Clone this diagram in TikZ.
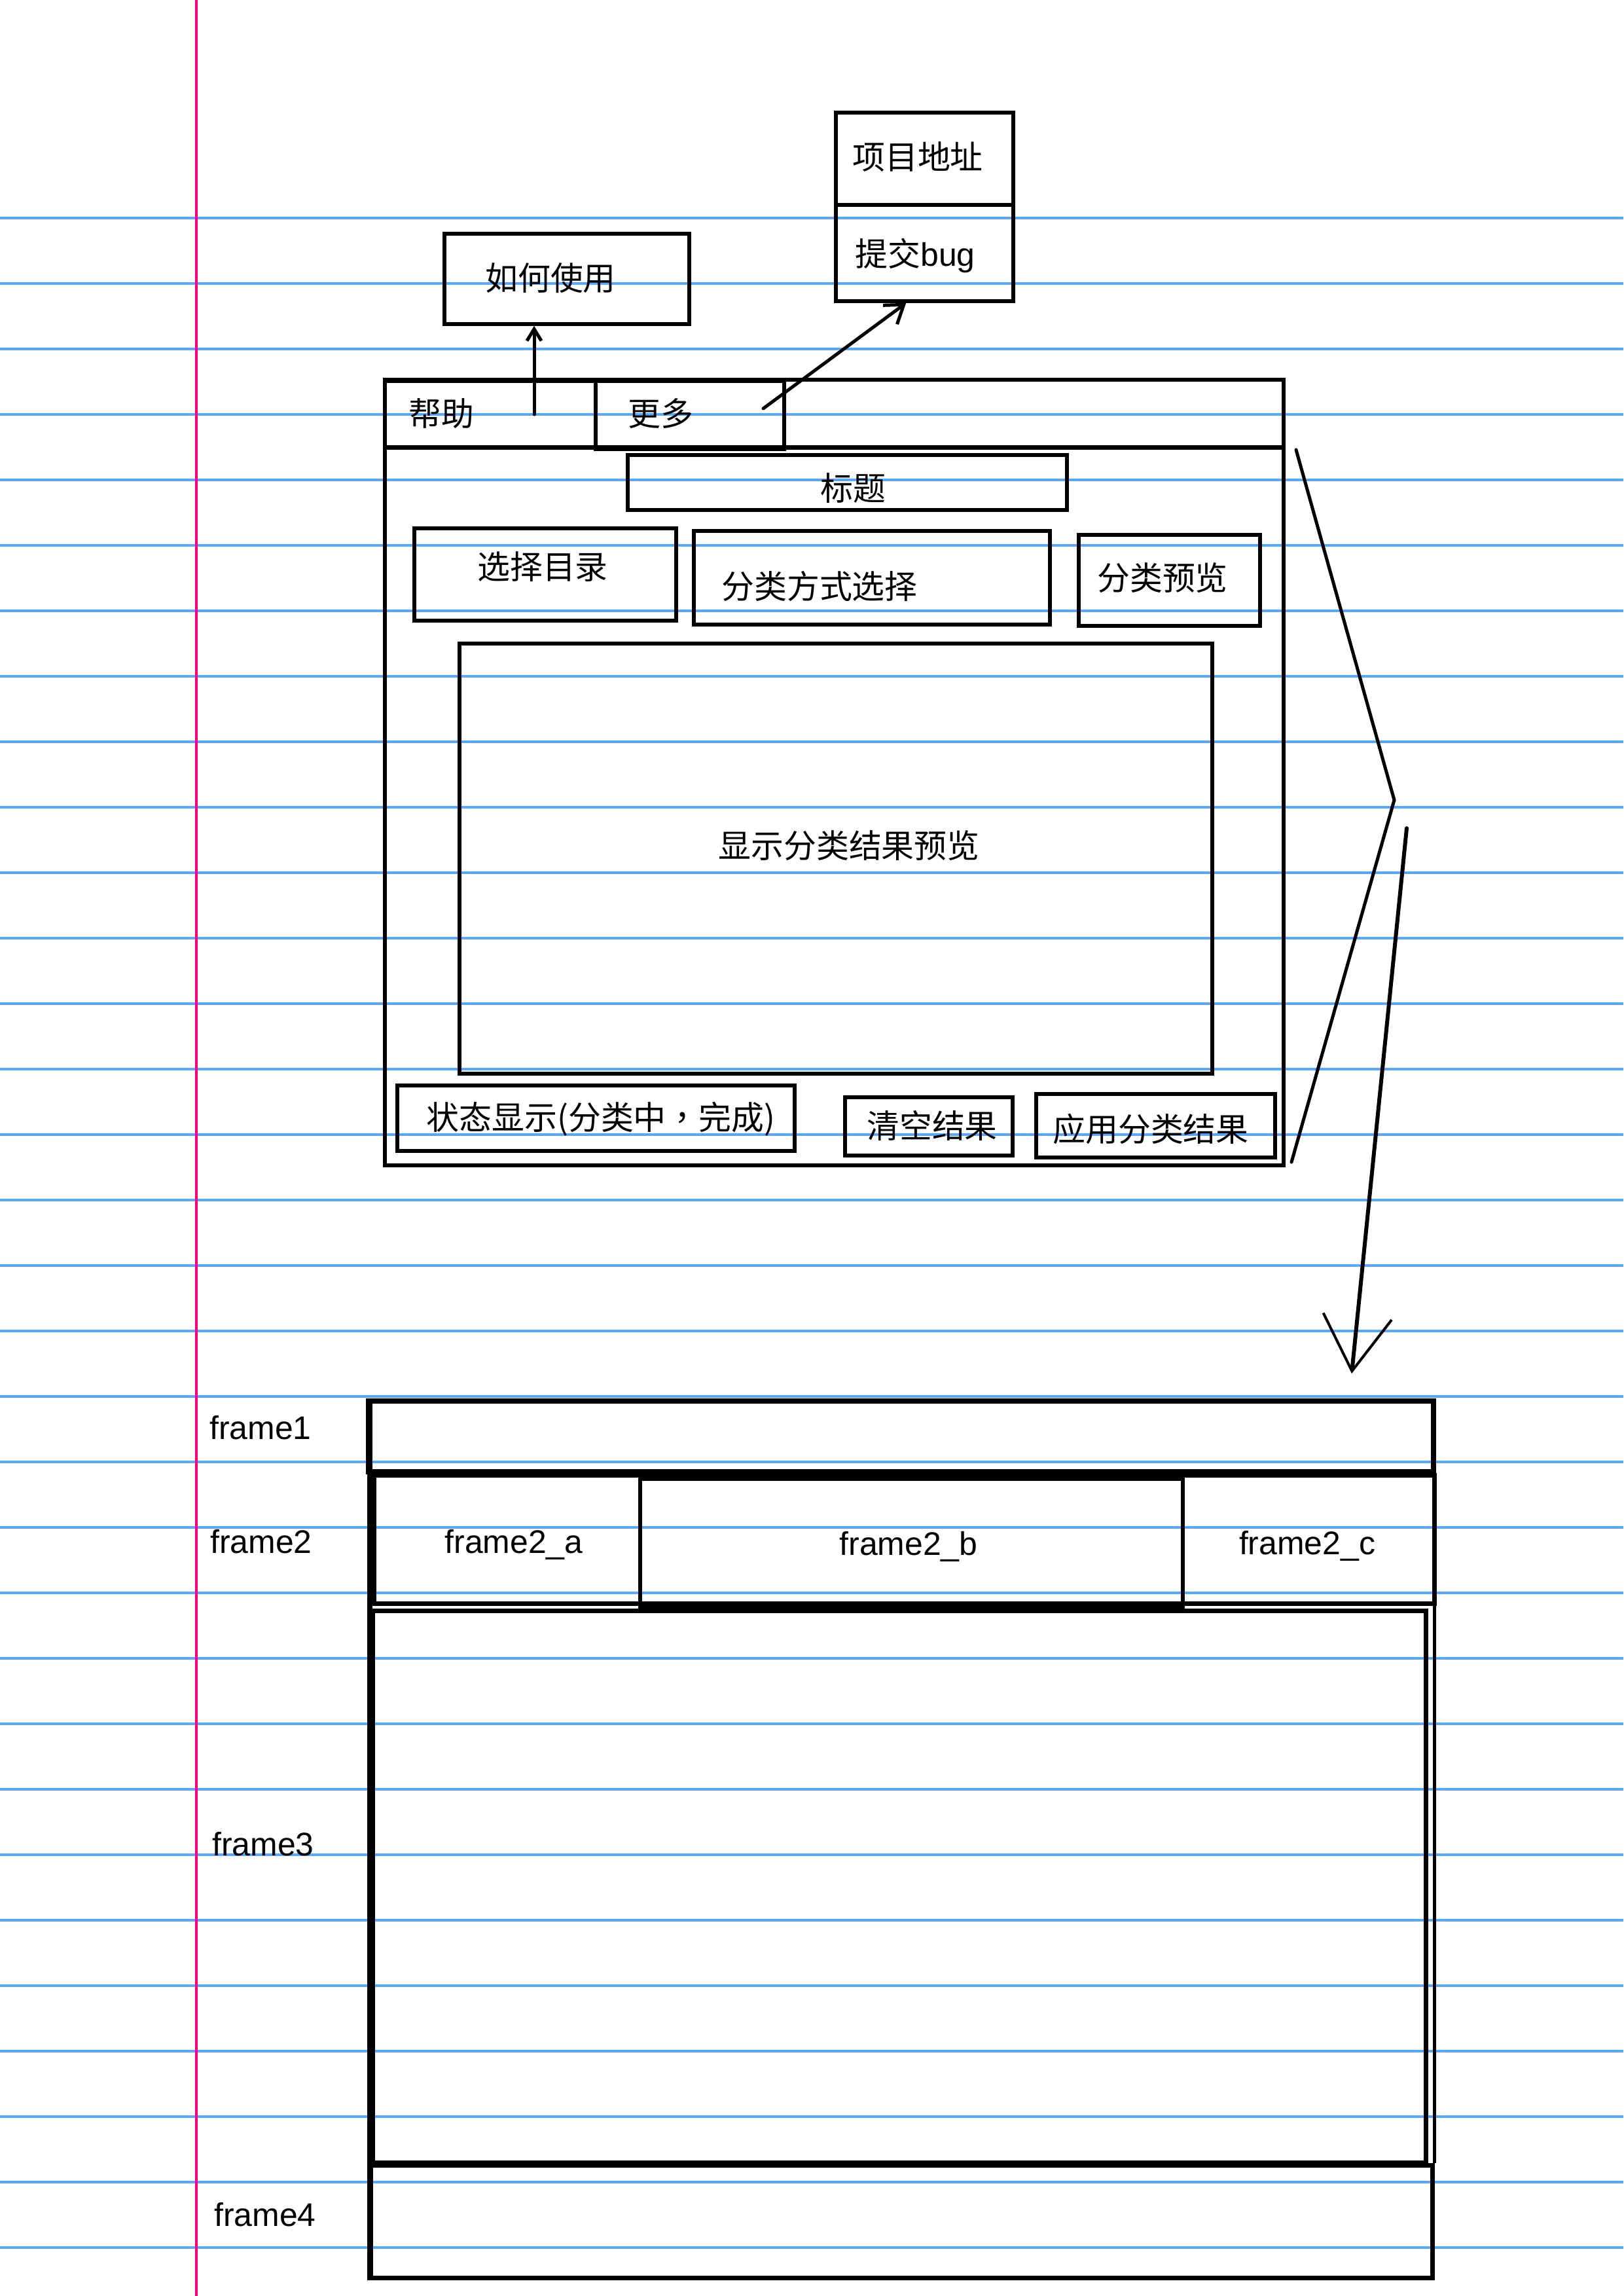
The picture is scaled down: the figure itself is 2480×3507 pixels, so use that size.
\documentclass[tikz,border=0pt]{standalone}
\usepackage{fontspec}
\setmainfont{Liberation Sans}
\newfontfamily\cjk{Noto Sans CJK SC}
\newfontfamily\cjktc{Noto Sans CJK TC}
\usetikzlibrary{arrows.meta,fit}
\definecolor{rulecol}{RGB}{88,166,255}
\definecolor{margincol}{RGB}{255,0,128}

\begin{document}
\begin{tikzpicture}[x=0.1mm,y=-0.1mm,
  box/.style={draw=black, line width=0.55mm, inner sep=0pt, rectangle},
  frm/.style={draw=black, line width=0.7mm, inner sep=0pt, rectangle},
  zh/.style={inner sep=0pt, anchor=base, font=\cjk\fontsize{14.2pt}{17pt}\selectfont},
  en/.style={inner sep=0pt, anchor=base, font=\fontsize{14.2pt}{17pt}\selectfont},
  arr/.style={line width=0.5mm, line cap=round},
]
% ruled paper
\fill[white] (0,0) rectangle (2480,3507);
\useasboundingbox (0,0) rectangle (2480,3507);
\foreach \k in {0,...,31}
  \draw[rulecol, line width=0.35mm] (0,{333+100*\k}) -- (2480,{333+100*\k});
\draw[margincol, line width=0.4mm] (300,0) -- (300,3507);

% main window
\node[box, fit={(588,580) (1961,1780)}] (win) {};
\draw[line width=0.7mm] (588,683) -- (1961,683);

% menu bar and pop-ups
\node[box, fit={(588,582) (910,683)}] (help) {};
\node[box, fit={(910,582) (1198,686)}] (more) {};
\node[box, fit={(679,357) (1053,495)}] (howto) {};
\node[box, fit={(1277,172) (1548,313)}] (proj) {};
\node[box, fit={(1277,313) (1548,460)}] (bug) {};

% window content
\node[box, fit={(959,695) (1630,779)}] (title) {};
\node[box, fit={(633,807) (1033,948)}] (dir) {};
\node[box, fit={(1060,811) (1604,954)}] (mode) {};
\node[box, fit={(1648,817) (1925,956)}] (prev) {};
\node[box, fit={(702,983) (1852,1640)}] (view) {};
\node[box, fit={(607,1658) (1214,1758)}] (status) {};
\node[box, fit={(1291,1676) (1547,1765)}] (clear) {};
\node[box, fit={(1583,1671) (1948,1768)}] (apply) {};

% labels
\node[zh] (proj-t) at (1402,259) {项目地址};
\node[zh] (bug-t) at (1398,406) {提交{\rmfamily bug}};
\node[zh] (howto-t) at (841,443) {如何使用};
\node[zh] (help-t) at (674,650) {帮助};
\node[zh] (more-t) at (1009,650) {更多};
\node[zh] (title-t) at (1303,764) {标题};
\node[zh] (dir-t) at (829,884) {选择目录};
\node[zh] (mode-t) at (1252,914) {分类方式选择};
\node[zh] (prev-t) at (1776,901) {分类预览};
\node[zh] (view-t) at (1297,1310) {显示分类结果预览};
\node[zh] (status-t) at (918,1725) {状态显示(分类中{\cjktc ，}完成)};
\node[zh] (clear-t) at (1424,1738) {清空结果};
\node[zh] (apply-t) at (1758,1743) {应用分类结果};

% menu arrows
\coordinate (help-from) at (816,633);
\draw[arr, -{Straight Barb[length=1.8mm,width=2.2mm]}] (help-from) -- (help-from |- howto.south);
\coordinate (more-from) at (1166,624);
\draw[arr, -{Straight Barb[length=2.6mm,width=3.6mm]}] (more-from) -- ([xshift=11mm]bug.south west);

% brace and arrow down to the frame layout
\coordinate (brace-top) at (1980,687);
\coordinate (brace-tip) at (2130,1222);
\coordinate (brace-bot) at (1973,1775);
\draw[line width=0.5mm, line cap=round] (brace-top) -- (brace-tip) -- (brace-bot);
\coordinate (down-from) at (2149,1265);
\coordinate (down-to) at (2065,2098);
\draw[line width=0.6mm, line cap=round, -{Straight Barb[length=8.4mm,width=10.5mm,line width=0.4mm]}] (down-from) -- (down-to);

% frame layout
\node[frm, line width=0.8mm, fit={(563,2140) (2190,2248)}] (f1) {};
\node[frm, fit={(571,2253) (2191,2449)}] (f2) {};
\node[frm, line width=0.55mm, fit={(978,2259) (1807,2455)}] (f2b) {};
\node[frm, fit={(569,2460) (2178,3303)}] (f3) {};
\node[frm, fit={(566,3307) (2188,3479)}] (f4) {};
\draw[line width=0.5mm] (f2.south east -| f4.east) -- (f4.north east);
\draw[line width=0.8mm] (f1.north west -| 565,0) -- (f4.south west -| 565,0);

\node[en] (f1-t) at (398,2198) {frame1};
\node[en] (f2-t) at (399,2372) {frame2};
\node[en] (f2a-t) at (785,2372) {frame2\_a};
\node[en] (f2b-t) at (1388,2375) {frame2\_b};
\node[en] (f2c-t) at (1997,2374) {frame2\_c};
\node[en] (f3-t) at (402,2834) {frame3};
\node[en] (f4-t) at (405,3400) {frame4};
\end{tikzpicture}
\end{document}
